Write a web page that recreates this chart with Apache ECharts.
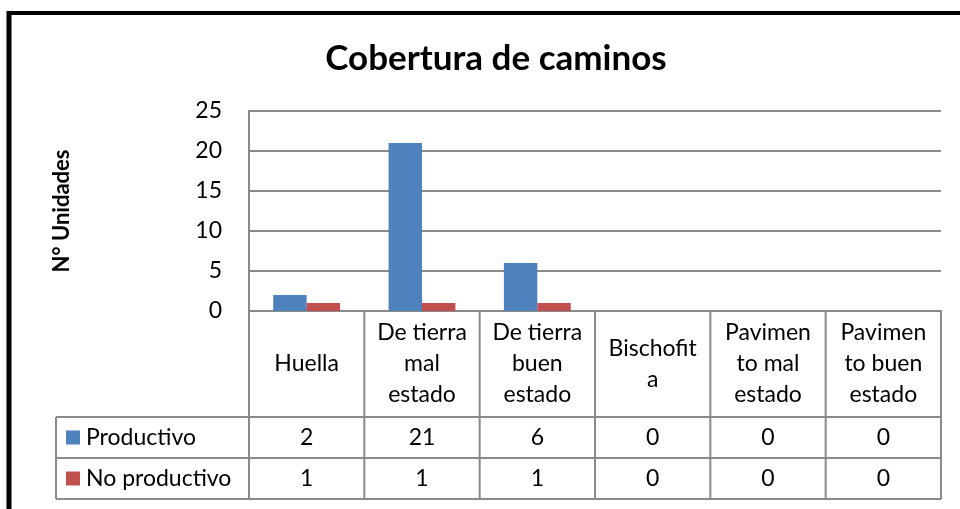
<!DOCTYPE html>
<html><head><meta charset="utf-8">
<script src="https://cdn.jsdelivr.net/npm/echarts@6/dist/echarts.min.js"></script>
<style>html,body{margin:0;padding:0;background:#fff}#c{width:960px;height:509px}</style>
</head><body><div id="c"></div>
<script>
var categories = ["Huella","De tierra\nmal\nestado","De tierra\nbuen\nestado","Bischofit\na","Pavimen\nto mal\nestado","Pavimen\nto buen\nestado"];
var seriesNames = ["Productivo","No productivo"];
var productivo = [2,21,6,0,0,0];
var noProductivo = [1,1,1,0,0,0];
var yTicks = [0,5,10,15,20,25];
var colors = ["#4F81BD","#C0504D"];
var FONT = "Lato";
var GRID_COL = "#8a8a8a";

var chart = echarts.init(document.getElementById('c'));
chart.setOption({
  animation:false,
  title:{text:"Cobertura de caminos",left:491,top:36,textAlign:'center',
    textStyle:{fontFamily:FONT,fontWeight:'bold',fontSize:35,color:'#000'}},
  grid:{left:249,right:19,top:111,bottom:198},
  xAxis:{type:'category',data:categories,
    axisLine:{lineStyle:{color:GRID_COL,width:2}},axisTick:{show:false},axisLabel:{show:false}},
  yAxis:{type:'value',min:yTicks[0],max:yTicks[yTicks.length-1],interval:5,
    name:"N° Unidades",nameLocation:'middle',nameGap:176,nameRotate:90,
    nameTextStyle:{fontFamily:FONT,fontWeight:'bold',fontSize:22,color:'#000'},
    axisLine:{show:true,lineStyle:{color:GRID_COL,width:2}},axisTick:{show:false},
    splitLine:{lineStyle:{color:GRID_COL,width:2}},
    axisLabel:{fontFamily:FONT,fontSize:23,color:'#000',margin:27}},
  series:[
    {name:seriesNames[0],type:'bar',data:productivo,barGap:'0%',barCategoryGap:'42%',itemStyle:{color:colors[0]}},
    {name:seriesNames[1],type:'bar',data:noProductivo,barGap:'0%',barCategoryGap:'42%',itemStyle:{color:colors[1]}}
  ]
});

var c0 = chart.convertToPixel({xAxisIndex:0},0);
var c1 = chart.convertToPixel({xAxisIndex:0},1);
var band = c1 - c0;
var y0 = chart.convertToPixel({yAxisIndex:0},0);
var gLeft = c0 - band/2;
var gRight = gLeft + band*categories.length;
var headH = 106, rowH = 41, tableLeft = 56;
var rowTops = [y0+headH, y0+headH+rowH, y0+headH+2*rowH];
var els = [];
function line(x1,y1,x2,y2){els.push({type:'line',shape:{x1:x1,y1:y1,x2:x2,y2:y2},style:{stroke:GRID_COL,lineWidth:2},silent:true});}
rowTops.forEach(function(y){line(tableLeft,y,gRight,y);});
line(tableLeft,rowTops[0],tableLeft,rowTops[2]);
for(var i=0;i<=categories.length;i++){
  var x = gLeft + band*i;
  line(x,y0,x,rowTops[2]);
}
function txt(t,x,y,align){els.push({type:'text',x:x,y:y,style:{text:t,fontFamily:FONT,fontSize:23,fill:'#000',align:align||'center',verticalAlign:'middle',lineHeight:31},silent:true});}
categories.forEach(function(cat,i){
  txt(cat, gLeft+band*(i+0.5), y0+headH/2);
  txt(String(productivo[i]), gLeft+band*(i+0.5), rowTops[0]+rowH/2);
  txt(String(noProductivo[i]), gLeft+band*(i+0.5), rowTops[1]+rowH/2);
});
[productivo,noProductivo].forEach(function(arr,k){
  var cy = rowTops[k]+rowH/2;
  els.push({type:'rect',shape:{x:66,y:cy-7,width:14,height:14},style:{fill:colors[k]},silent:true});
  txt(seriesNames[k],86,cy,'left');
});
els.push({type:'line',shape:{x1:9,y1:11,x2:9,y2:509},style:{stroke:'#000',lineWidth:5},silent:true});
els.push({type:'line',shape:{x1:7,y1:13,x2:960,y2:13},style:{stroke:'#000',lineWidth:4},silent:true});
chart.setOption({graphic:{elements:els}});
</script></body></html>
